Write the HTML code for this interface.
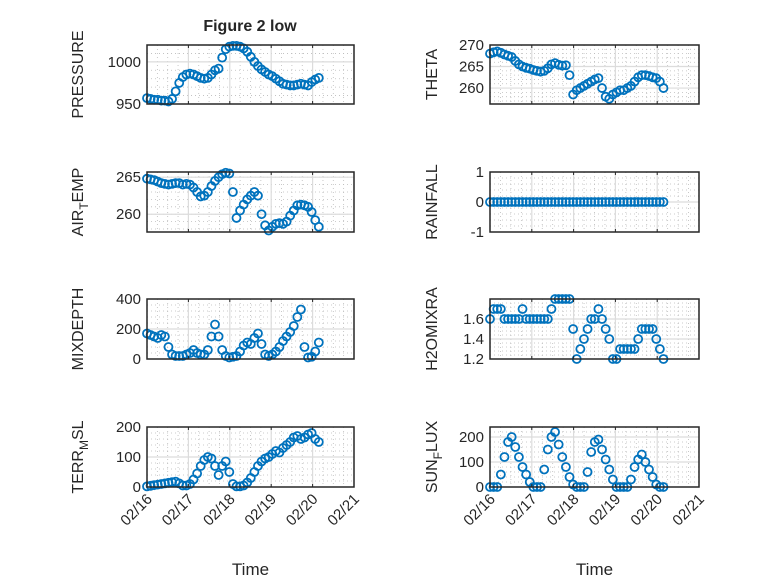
<!DOCTYPE html>
<html><head><meta charset="utf-8"><style>
body{margin:0;background:#fff;}
svg text{font-family:"Liberation Sans",sans-serif;fill:#262626;}
</style></head><body>
<svg id="fig" width="778" height="583" viewBox="0 0 778 583" xmlns="http://www.w3.org/2000/svg">
<rect width="778" height="583" fill="#fff"/>
<text x="250" y="31" font-size="16" font-weight="bold" text-anchor="middle">Figure 2 low</text>
</svg>
<script>
const xTickLabels = ["02/16","02/17","02/18","02/19","02/20","02/21"];
const pressureVals = [957,956,955,955,954,954,953,956,965,975,982,985,986,985,983,981,980,981,985,990,992,1005,1015,1018,1019,1019,1018,1016,1012,1006,1000,995,991,988,985,983,980,977,974,973,972,972,973,974,973,972,976,979,981];
const thetaVals = [268,268.3,268.5,268.2,267.8,267.5,267.2,266.3,265.5,265,264.7,264.5,264.2,264,263.8,264,264.6,265.5,265.8,265.4,265.2,265.3,263,258.5,259.5,260,260.5,261,261.5,262,262.3,260,258,257.5,258.5,259,259.5,259.5,260,260.5,261.5,262.5,263,263,262.8,262.5,262.3,261.5,260];
const airTempVals = [264.8,264.7,264.6,264.4,264.2,264.1,264.0,264.1,264.2,264.2,264.0,264.1,264.0,263.6,263.0,262.4,262.5,263.0,263.8,264.5,265.0,265.4,265.6,265.5,263,259.5,260.5,261.3,262,262.5,263,262.5,260,258.5,257.8,258.3,258.7,258.8,258.7,259,259.8,260.5,261.2,261.3,261.2,261,260.3,259.2,258.3];
const rainVals = [0,0,0,0,0,0,0,0,0,0,0,0,0,0,0,0,0,0,0,0,0,0,0,0,0,0,0,0,0,0,0,0,0,0,0,0,0,0,0,0,0,0,0,0,0,0,0,0,0];
const mixVals = [170,160,150,140,160,150,80,30,20,20,20,30,40,60,40,30,30,60,150,230,150,60,20,10,15,20,50,90,110,100,140,170,100,30,20,30,50,80,120,150,180,220,280,330,80,10,15,50,110];
const h2oVals = [1.6,1.7,1.7,1.7,1.6,1.6,1.6,1.6,1.6,1.7,1.6,1.6,1.6,1.6,1.6,1.6,1.6,1.7,1.8,1.8,1.8,1.8,1.8,1.5,1.2,1.3,1.4,1.5,1.6,1.6,1.7,1.6,1.5,1.4,1.2,1.2,1.3,1.3,1.3,1.3,1.3,1.4,1.5,1.5,1.5,1.5,1.4,1.3,1.2];
const terrVals = [2,4,6,8,10,12,14,16,18,12,5,5,10,25,45,70,90,100,95,70,40,70,85,50,10,2,2,5,15,30,50,70,85,95,100,110,120,115,130,140,150,165,170,160,165,175,180,160,150];
const sunVals = [0,0,0,50,120,180,200,160,120,80,50,20,0,0,0,70,150,200,220,170,120,80,40,10,0,0,0,60,140,180,190,150,110,70,30,0,0,0,0,30,80,110,130,100,70,40,10,0,0];

const NS="http://www.w3.org/2000/svg";
const svg=document.getElementById('fig');
function mk(tag,attrs,parent){const e=document.createElementNS(NS,tag);for(const k in attrs)e.setAttribute(k,attrs[k]);(parent||svg).appendChild(e);return e;}

const panels=[
 {name:'pressure',vals:pressureVals,x0:147,x1:354,y0:45,y1:104,ymin:950,ymax:1020,ticks:[950,1000],major:50,label:['PRESSURE'],lx:83},
 {name:'theta',vals:thetaVals,x0:490,x1:699,y0:45,y1:104,ymin:256.3,ymax:270,ticks:[260,265,270],major:5,label:['THETA'],lx:437},
 {name:'air-temp',vals:airTempVals,x0:147,x1:354,y0:172,y1:232,ymin:257.6,ymax:265.7,ticks:[260,265],major:5,label:['AIR','T','EMP'],lx:83},
 {name:'rainfall',vals:rainVals,x0:490,x1:699,y0:172,y1:232,ymin:-1,ymax:1,ticks:[-1,0,1],major:1,label:['RAINFALL'],lx:437},
 {name:'mixdepth',vals:mixVals,x0:147,x1:354,y0:299,y1:359,ymin:0,ymax:400,ticks:[0,200,400],major:200,label:['MIXDEPTH'],lx:83},
 {name:'h2omixra',vals:h2oVals,x0:490,x1:699,y0:299,y1:359,ymin:1.2,ymax:1.8,ticks:[1.2,1.4,1.6],major:0.2,label:['H2OMIXRA'],lx:437},
 {name:'terr-msl',vals:terrVals,x0:147,x1:354,y0:427,y1:487,ymin:0,ymax:200,ticks:[0,100,200],major:100,label:['TERR','M','SL'],lx:83,bottom:true},
 {name:'sunflux',vals:sunVals,x0:490,x1:699,y0:427,y1:487,ymin:0,ymax:240,ticks:[0,100,200],major:100,label:['SUN','F','LUX'],lx:437,bottom:true}
];

panels.forEach(p=>{
 const g=mk('g',{});
 
 
 const xs=d=>p.x0+(p.x1-p.x0)*d/5;
 const ys=v=>p.y1-(p.y1-p.y0)*(v-p.ymin)/(p.ymax-p.ymin);
 for(let d=0.25;d<5;d+=0.25){ if(Math.abs(d-Math.round(d))<1e-6)continue;
  mk('line',{x1:xs(d),x2:xs(d),y1:p.y0,y2:p.y1,stroke:'#bbb','stroke-width':0.8,'stroke-dasharray':'1 3'},g);}
 const mstep=p.major/5;
 for(let v=Math.ceil(p.ymin/mstep)*mstep;v<p.ymax;v+=mstep){
  mk('line',{x1:p.x0,x2:p.x1,y1:ys(v),y2:ys(v),stroke:'#bbb','stroke-width':0.8,'stroke-dasharray':'1 3'},g);}
 for(let d=1;d<5;d++) mk('line',{x1:xs(d),x2:xs(d),y1:p.y0,y2:p.y1,stroke:'#dcdcdc','stroke-width':1.2},g);
 p.ticks.forEach(v=>{ if(v>p.ymin&&v<p.ymax) mk('line',{x1:p.x0,x2:p.x1,y1:ys(v),y2:ys(v),stroke:'#dcdcdc','stroke-width':1.2},g);});
 p.vals.forEach((v,i)=>{
  const c=mk('circle',{cx:xs(i*4.15/48),cy:ys(v),r:4,fill:'none',stroke:'#0072BD','stroke-width':1.8},g);
  
  
 });
 mk('rect',{x:p.x0,y:p.y0,width:p.x1-p.x0,height:p.y1-p.y0,fill:'none',stroke:'#262626','stroke-width':1.5},g);
 for(let d=0;d<=5;d++){mk('line',{x1:xs(d),x2:xs(d),y1:p.y1,y2:p.y1-3,stroke:'#262626'},g);mk('line',{x1:xs(d),x2:xs(d),y1:p.y0,y2:p.y0+3,stroke:'#262626'},g);}
 p.ticks.forEach(v=>{
  const t=mk('text',{x:p.x0-6,y:ys(v)+5,'font-size':15,'text-anchor':'end'},g);
  t.textContent=String(v);
  
  
 });
 const yl=mk('text',{x:0,y:0,'font-size':16,'text-anchor':'middle',transform:`translate(${p.lx},${(p.y0+p.y1)/2}) rotate(-90)`},g);
 
 
 if(p.label.length===1){yl.textContent=p.label[0];}
 else{
  const a=mk('tspan',{},yl);a.textContent=p.label[0];
  const b=mk('tspan',{dy:5,'font-size':12},yl);b.textContent=p.label[1];
  const c=mk('tspan',{dy:-5},yl);c.textContent=p.label[2];
 }
 if(p.bottom){
  xTickLabels.forEach((s,d)=>{
   const t=mk('text',{x:0,y:0,'font-size':15,'text-anchor':'end',transform:`translate(${xs(d)+6},${p.y1+13}) rotate(-45)`},g);
   t.textContent=s;
   
   
  });
  const xt=mk('text',{x:(p.x0+p.x1)/2,y:575,'font-size':17,'text-anchor':'middle'},g);
  xt.textContent='Time';
  
  
 }
});
</script>
</body></html>
